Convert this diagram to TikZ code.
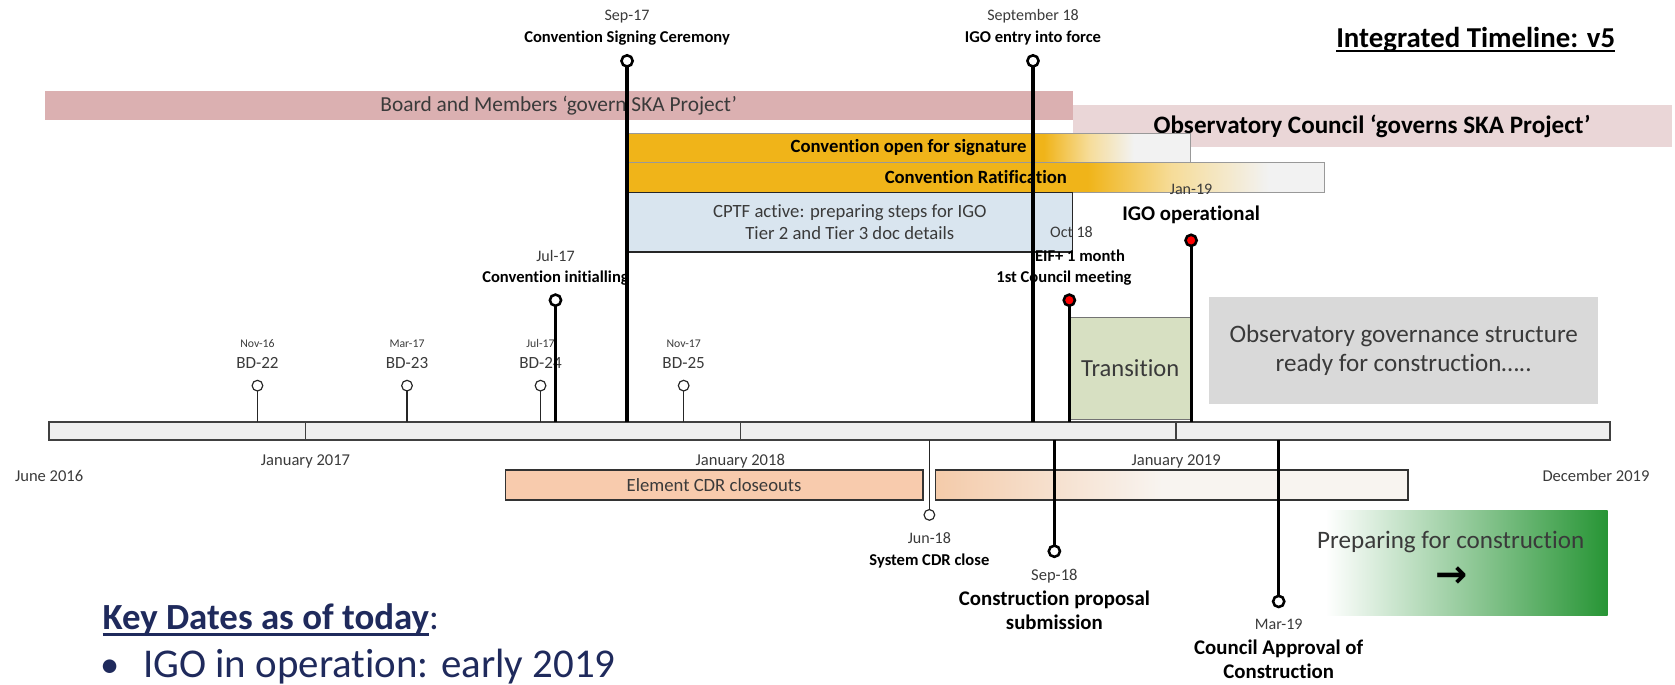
\documentclass[tikz,border=0pt]{standalone}
\usepackage{tikz}
\usepackage{fontspec}
\setmainfont{Carlito}[Ligatures=NoCommon]
\newfontfamily\djv{DejaVu Sans}
\definecolor{cyel}{HTML}{F0B419}
\definecolor{cyelL}{HTML}{F6DC98}
\definecolor{cgry}{HTML}{F2F2F2}
\definecolor{cpeach}{HTML}{F8CBAD}
\definecolor{cpeachA}{HTML}{F4CBAA}
\definecolor{cpale}{HTML}{F8F4F0}
\definecolor{cgreen}{HTML}{279535}
\definecolor{cboard}{HTML}{DBB0B1}
\definecolor{cobs}{HTML}{EAD6D7}
\definecolor{ccptf}{HTML}{D9E5EF}
\definecolor{ctrans}{HTML}{D7E0C2}
\definecolor{cgbox}{HTML}{D9D9D9}
\definecolor{cline}{HTML}{EFEFEF}
\definecolor{cnavy}{HTML}{1F2A5C}
\definecolor{ctext}{HTML}{3A3A3A}
\pgfdeclarehorizontalshading{openshade}{100bp}{color(0bp)=(cyel); color(62bp)=(cyel); color(66bp)=(cyelL); color(70bp)=(cgry); color(100bp)=(cgry)}
\pgfdeclarehorizontalshading{ratshade}{100bp}{color(0bp)=(cyel); color(58bp)=(cyel); color(64bp)=(cyelL); color(71bp)=(cgry); color(100bp)=(cgry)}
\pgfdeclarehorizontalshading{peachshade}{100bp}{color(0bp)=(cpeachA); color(25bp)=(cpeachA); color(49bp)=(cpale); color(100bp)=(cpale)}
\pgfdeclarehorizontalshading{prepshade}{100bp}{color(0bp)=(white); color(29bp)=(white); color(75bp)=(cgreen); color(100bp)=(cgreen)}
\newcommand\fz[1]{\fontsize{#1}{#1}\selectfont}
\begin{document}
\begin{tikzpicture}[x=1pt,y=-1pt,
  every node/.style={inner sep=0pt, outer sep=0pt},
  box/.style={anchor=north west, rectangle, inner sep=0pt},
  rl/.style={anchor=base, text=ctext},
  bl/.style={anchor=base, text=black},
  dotthin/.style={circle, draw=black!85, fill=white, line width=1.1pt, minimum size=10pt},
  dotthick/.style={circle, draw=black, fill=white, line width=2.4pt, minimum size=10.5pt},
  dotred/.style={dotthick, fill=red},
  stemthin/.style={draw=black!85, line width=1.3pt},
  stemthick/.style={draw=black, line width=3pt},
  divider/.style={draw=black!75, line width=1.3pt}
]
\useasboundingbox (0,0) rectangle (1568,641);

% governance bars
\node[box, fill=cobs, minimum width=561pt, minimum height=40pt, font=\bfseries\fz{23.5}] (obs) at (1004,98) {Observatory Council ‘governs SKA Project’};
\node[box, fill=cboard, minimum width=962pt, minimum height=27pt, text=ctext, font=\fz{20}] (board) at (42,85) {Board and Members ‘govern SKA Project’};
\node[box, shade, shading=openshade, draw=black!40, line width=0.8pt, minimum width=527pt, minimum height=27pt, font=\bfseries\fz{17.5}] (open) at (587,125) {Convention open for signature};
\node[box, shade, shading=ratshade, draw=black!40, line width=0.8pt, minimum width=653pt, minimum height=28pt, font=\bfseries\fz{17.5}] (ratif) at (587,152) {Convention Ratification};
\node[box, fill=ccptf, draw=black!85, line width=1.2pt, minimum width=417pt, minimum height=56pt, align=center, text=ctext, font={\fontsize{17.5}{21}\selectfont}] (cptf) at (587,180) {CPTF active: preparing steps for IGO\\Tier 2 and Tier 3 doc details};

% transition and structure boxes
\node[box, fill=ctrans, draw=black!55, line width=1.2pt, minimum width=114pt, minimum height=96pt, text=ctext, font=\fz{23}] (trans) at (1001,297) {Transition};
\node[box, fill=cgbox, minimum width=364pt, minimum height=100pt, align=center, text=ctext, font={\fontsize{23.5}{27}\selectfont}] (gov) at (1132,278) {Observatory governance structure\\ready for construction…..};

% time axis
\node[box, fill=cline, draw=black!75, line width=1.3pt, minimum width=1461pt, minimum height=17pt] (axis) at (46,395) {};
\draw[divider] (286,395) -- (286,412);
\draw[divider] (693,395) -- (693,412);
\draw[divider] (1101,395) -- (1101,412);
\node[rl, font=\fz{15.5}] (y17) at (286,436) {January 2017};
\node[rl, font=\fz{15.5}] (y18) at (693,436) {January 2018};
\node[rl, font=\fz{15.5}] (y19) at (1101,436) {January 2019};
\node[rl, font=\fz{15.5}] (ystart) at (46,451) {June 2016};
\node[rl, font=\fz{15.5}] (yend) at (1494,451) {December 2019};

% lower bars
\node[box, fill=cpeach, draw=black!80, line width=1.2pt, minimum width=391pt, minimum height=28pt, text=ctext, font=\fz{17.5}] (ecdr) at (473,440) {Element CDR closeouts};
\node[box, shade, shading=peachshade, draw=black!80, line width=1.2pt, minimum width=442pt, minimum height=28pt] (peach2) at (876,440) {};
\node[box, shade, shading=prepshade, minimum width=287pt, minimum height=98pt] (prep) at (1218,478) {};
\node[rl, font=\fz{23.5}] (preptxt) at (1358,513.5) {Preparing for construction};
\node[anchor=center, text=black, font=\djv\bfseries\fz{36}] (preparrow) at (1359,540) {→};

% title
\node[anchor=base east, text=black, font=\bfseries\fz{27}] (title) at (1512,44) {Integrated Timeline: v5};
\draw[line width=1.6pt] ([yshift=-3.5pt]title.base west) -- ([yshift=-3.5pt]title.base east);

% top labels
\node[rl, font=\fz{15}] (l-sep17a) at (587,19) {Sep-17};
\node[bl, font=\bfseries\fz{15.5}] (l-sep17b) at (587,40) {Convention Signing Ceremony};
\node[rl, font=\fz{15}] (l-sep18a) at (967,19) {September 18};
\node[bl, font=\bfseries\fz{15.5}] (l-sep18b) at (967,40) {IGO entry into force};
\node[rl, font=\fz{15}] (l-jan19a) at (1115,182) {Jan-19};
\node[bl, font=\bfseries\fz{19.5}] (l-jan19b) at (1115,206) {IGO operational};
\node[rl, font=\fz{15}] (l-oct18a) at (1003,222) {Oct 18};
\node[bl, font=\bfseries\fz{15.5}] (l-oct18b) at (1011,245) {EIF+ 1 month};
\node[bl, font=\bfseries\fz{15.5}] (l-oct18c) at (996,264) {1st Council meeting};
\node[rl, font=\fz{15}] (l-jul17a) at (520,245) {Jul-17};
\node[bl, font=\bfseries\fz{15.5}] (l-jul17b) at (520,264) {Convention initialling};

% board meetings
\foreach \x/\d/\b/\n in {241/Nov-16/BD-22/bd22, 381/Mar-17/BD-23/bd23, 506/Jul-17/BD-24/bd24, 640/Nov-17/BD-25/bd25}{
  \node[rl, font=\fz{11}] (\n-date) at (\x,325.5) {\d};
  \node[rl, font=\fz{16}] (\n-name) at (\x,345) {\b};
  \node[dotthin] (\n-dot) at (\x,361) {};
  \coordinate (\n-axis) at (\x,395);
  \draw[stemthin] (\n-dot) -- (\n-axis);
}

% lower labels
\node[rl, font=\fz{15}] (l-jun18a) at (870,509) {Jun-18};
\node[bl, font=\bfseries\fz{15.5}] (l-jun18b) at (870,529) {System CDR close};
\node[rl, font=\fz{15.5}] (l-sep18c) at (987,543) {Sep-18};
\node[bl, font=\bfseries\fz{19.5}] (l-sep18d) at (987,567) {Construction proposal};
\node[bl, font=\bfseries\fz{19.5}] (l-sep18e) at (987,589) {submission};
\node[rl, font=\fz{15}] (l-mar19a) at (1197,589) {Mar-19};
\node[bl, font=\bfseries\fz{19.5}] (l-mar19b) at (1197,613) {Council Approval of};
\node[bl, font=\bfseries\fz{19.5}] (l-mar19c) at (1197,635) {Construction};

% key dates
\node[anchor=base west, text=cnavy, font=\bfseries\fz{34.5}] (kd) at (96,589) {Key Dates as of today};
\node[anchor=base west, text=cnavy, font=\fz{34.5}] (kdcolon) at (kd.base east) {:};
\draw[cnavy, line width=2.6pt] ([yshift=-5pt]kd.base west) -- ([yshift=-5pt]kd.base east);
\node[anchor=base, text=cnavy, font=\fz{36}] (bullet) at (103,634) {•};
\node[anchor=base west, text=cnavy, font=\fz{38.3}] (kd1) at (134,634) {IGO in operation: early 2019};

% major milestones above the axis
\node[dotthick] (d-sep17) at (587,57) {};
\coordinate (a-sep17) at (587,395);
\draw[stemthick] (d-sep17) -- (a-sep17);
\node[dotthick] (d-sep18) at (967,57) {};
\coordinate (a-sep18) at (967,395);
\draw[stemthick] (d-sep18) -- (a-sep18);
\node[dotthick] (d-jul17) at (520,281) {};
\coordinate (a-jul17) at (520,395);
\draw[stemthick] (d-jul17) -- (a-jul17);
\node[dotred] (d-oct18) at (1001,281) {};
\coordinate (a-oct18) at (1001,395);
\draw[stemthick] (d-oct18) -- (a-oct18);
\node[dotred] (d-jan19) at (1115,225) {};
\coordinate (a-jan19) at (1115,395);
\draw[stemthick] (d-jan19) -- (a-jan19);

% milestones below the axis
\coordinate (a-jun18) at (870,412);
\node[dotthin] (d-jun18) at (870,482) {};
\draw[stemthin] (a-jun18) -- (d-jun18);
\coordinate (a-sep18b) at (987,412);
\node[dotthick] (d-sep18b) at (987,516) {};
\draw[stemthick] (a-sep18b) -- (d-sep18b);
\coordinate (a-mar19) at (1197,412);
\node[dotthick] (d-mar19) at (1197,563) {};
\draw[stemthick] (a-mar19) -- (d-mar19);
\end{tikzpicture}
\end{document}
